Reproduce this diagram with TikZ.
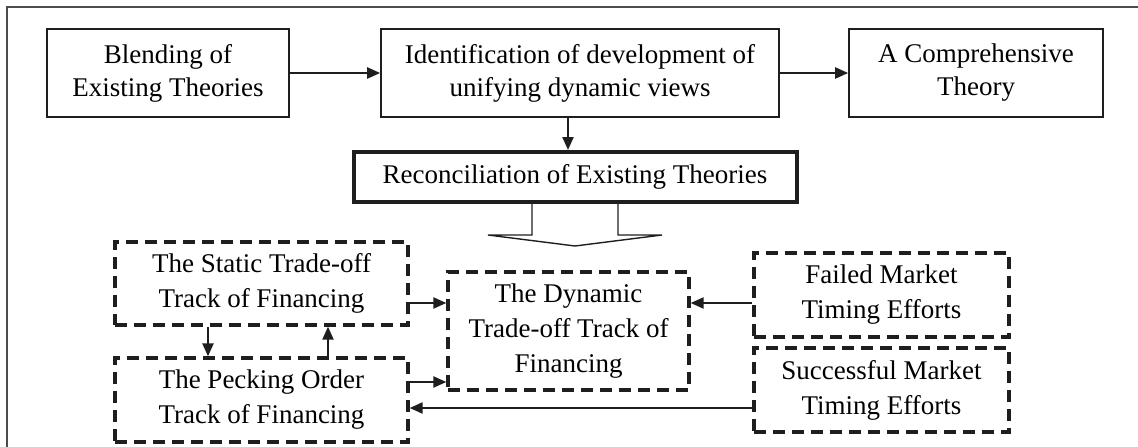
\documentclass[tikz,border=0pt]{standalone}
\usepackage{fontspec}
\setmainfont{Liberation Serif}
\usetikzlibrary{positioning}
\usetikzlibrary{arrows.meta}
\usetikzlibrary{calc}
\definecolor{inkline}{HTML}{1E1E1E}

\begin{document}
\begin{tikzpicture}[x=1pt, y=-1pt,
        every node/.style={font=\fontsize{27}{33}\selectfont, align=center, inner sep=0pt},
        solidbox/.style={draw=inkline, line width=1.6pt},
        dashbox/.style={draw=inkline, line width=3.3pt, dash pattern=on 12pt off 7pt, font=\fontsize{27}{35}\selectfont},
        arr/.style={draw=inkline, line width=2.2pt, -{Triangle[length=13pt,width=11pt]}}]
        \useasboundingbox (0,0) rectangle (1138,447);
        \draw[gray!60!black, line width=1.6pt] (7,460) |- (1150,7);

        \node[solidbox, minimum width=242pt, minimum height=88pt] (blending) at (168,73) {Blending of\\Existing Theories};
        \node[solidbox, minimum width=398pt, minimum height=88pt] (identification) at (580,73) {Identification of development of\\unifying dynamic views};
        \node[solidbox, minimum width=254pt, minimum height=88pt] (comprehensive) at (976,73) {A Comprehensive\\Theory};
        \node[solidbox, line width=4pt, minimum width=443pt, minimum height=50pt] (reconciliation) at (575,177) {Reconciliation of Existing Theories};

        \node[dashbox, minimum width=293pt, minimum height=83pt] (staticTrack) at (261.5,283.5) {The Static Trade-off\\Track of Financing};
        \node[dashbox, minimum width=293pt, minimum height=84pt] (peckingTrack) at (261.5,400) {The Pecking Order\\Track of Financing};
        \node[dashbox, minimum width=241pt, minimum height=118pt] (dynamicTrack) at (568.5,331) {The Dynamic\\Trade-off Track of\\Financing};
        \node[dashbox, minimum width=255pt, minimum height=84pt] (failedTiming) at (881.5,295) {Failed Market\\Timing Efforts};
        \node[dashbox, minimum width=255pt, minimum height=84pt] (successTiming) at (881.5,390) {Successful Market\\Timing Efforts};

        \draw[arr] (blending) -- (identification);
        \draw[arr] (identification) -- (comprehensive);
        \draw[arr] ([xshift=-12pt]identification.south) -- ([xshift=-12pt]identification.south |- reconciliation.north);

        \draw[inkline, line width=1.4pt] ($(reconciliation.south)+(-43,0)$) -- ++(0,31) -- ++(-44,0)
            -- ($(reconciliation.south)+(0,42)$) -- ($(reconciliation.south)+(87,31)$) -- ++(-44,0) -- ++(0,-31);

        \draw[arr] ([yshift=-19.5pt]staticTrack.east) -- ([yshift=28pt]dynamicTrack.west);
        \draw[arr] ([yshift=18pt]peckingTrack.east) -- ([yshift=-51pt]dynamicTrack.west);
        \draw[arr] ([yshift=-8pt]failedTiming.west) -- ([yshift=28pt]dynamicTrack.east);
        \draw[arr] ([yshift=-18pt]successTiming.west) -- ([yshift=-8pt]peckingTrack.east);
        \draw[arr] ([xshift=-53.5pt]staticTrack.south) -- ([xshift=-53.5pt]peckingTrack.north);
        \draw[arr] ([xshift=66.5pt]peckingTrack.north) -- ([xshift=66.5pt]staticTrack.south);
    \end{tikzpicture}
\end{document}
